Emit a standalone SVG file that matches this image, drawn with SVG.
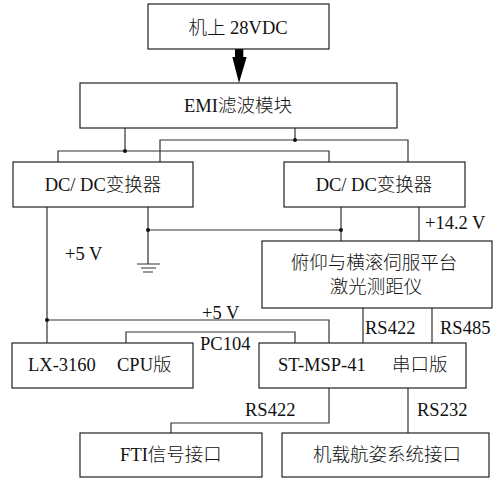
<svg xmlns="http://www.w3.org/2000/svg" width="502" height="482" viewBox="0 0 502 482">
<style>
.box{fill:#fff;stroke:#222;stroke-width:1.2}
.ln{fill:none;stroke:#333;stroke-width:1.2}
.dot{fill:#111}
text{font-family:"Liberation Serif","Noto Sans CJK SC",serif;font-size:18.5px;font-weight:300;fill:#111}
.c{text-anchor:middle}
</style>
<rect width="502" height="482" fill="#fff"/>
<g id="connectors">
  <path d="M235,49 H243.3 V57 H246.7 L239,83 L232.3,57 H235 Z" fill="#000"/>
  <path class="ln" d="M125,128 V151 M58,162 V151 H329 V162"/>
  <path class="ln" d="M295,128 V140 M160,162 V140 H408 V162"/>
  <circle class="dot" cx="125" cy="151" r="2"/>
  <circle class="dot" cx="295" cy="140" r="2"/>
  <path class="ln" d="M47,207 V343 M47,320 H329 V343"/>
  <circle class="dot" cx="47" cy="320" r="2"/>
  <path class="ln" d="M148,207 V264 M148,230 H341 M341,207 V241 M419,207 V241"/>
  <circle class="dot" cx="148" cy="230" r="2"/>
  <circle class="dot" cx="341" cy="230" r="2"/>
  <path class="ln" d="M137,264 H160 M141,268 H156 M143,272 H153"/>
  <path class="ln" d="M126,343 V332 H295 V343"/>
  <path class="ln" d="M363,308 V343 M432,308 V343"/>
  <path class="ln" d="M329,388 V423 H171 V433 M408,388 V433"/>
  <text x="65" y="260">+5 V</text>
  <text x="202" y="319">+5 V</text>
  <text x="425" y="229">+14.2 V</text>
  <text x="200" y="350">PC104</text>
  <text x="365" y="334">RS422</text>
  <text x="440" y="334">RS485</text>
  <text x="245" y="416">RS422</text>
  <text x="417" y="416">RS232</text>
</g>
<g id="power">
  <rect class="box" x="148" y="4" width="181" height="45"/>
  <text class="c" x="238" y="34">机上 28VDC</text>
</g>
<g id="emi">
  <rect class="box" x="80" y="83" width="317" height="45"/>
  <text class="c" x="238" y="112">EMI滤波模块</text>
</g>
<g id="dcdc1">
  <rect class="box" x="13" y="162" width="180" height="45"/>
  <text class="c" x="103" y="191">DC/ DC变换器</text>
</g>
<g id="dcdc2">
  <rect class="box" x="284" y="162" width="181" height="45"/>
  <text class="c" x="374" y="191">DC/ DC变换器</text>
</g>
<g id="servo">
  <rect class="box" x="262" y="241" width="230" height="67"/>
  <text class="c" x="374" y="269">俯仰与横滚伺服平台</text>
  <text class="c" x="376" y="293">激光测距仪</text>
</g>
<g id="cpu">
  <rect class="box" x="12" y="343" width="181" height="45"/>
  <text y="371"><tspan x="28">LX-3160</tspan><tspan x="117">CPU版</tspan></text>
</g>
<g id="serial">
  <rect class="box" x="259" y="343" width="207" height="45"/>
  <text y="371"><tspan x="278">ST-MSP-41</tspan><tspan x="392">串口版</tspan></text>
</g>
<g id="fti">
  <rect class="box" x="80" y="433" width="182" height="44"/>
  <text class="c" x="171" y="461">FTI信号接口</text>
</g>
<g id="nav">
  <rect class="box" x="282" y="433" width="207" height="44"/>
  <text class="c" x="387" y="461">机载航姿系统接口</text>
</g>
</svg>
